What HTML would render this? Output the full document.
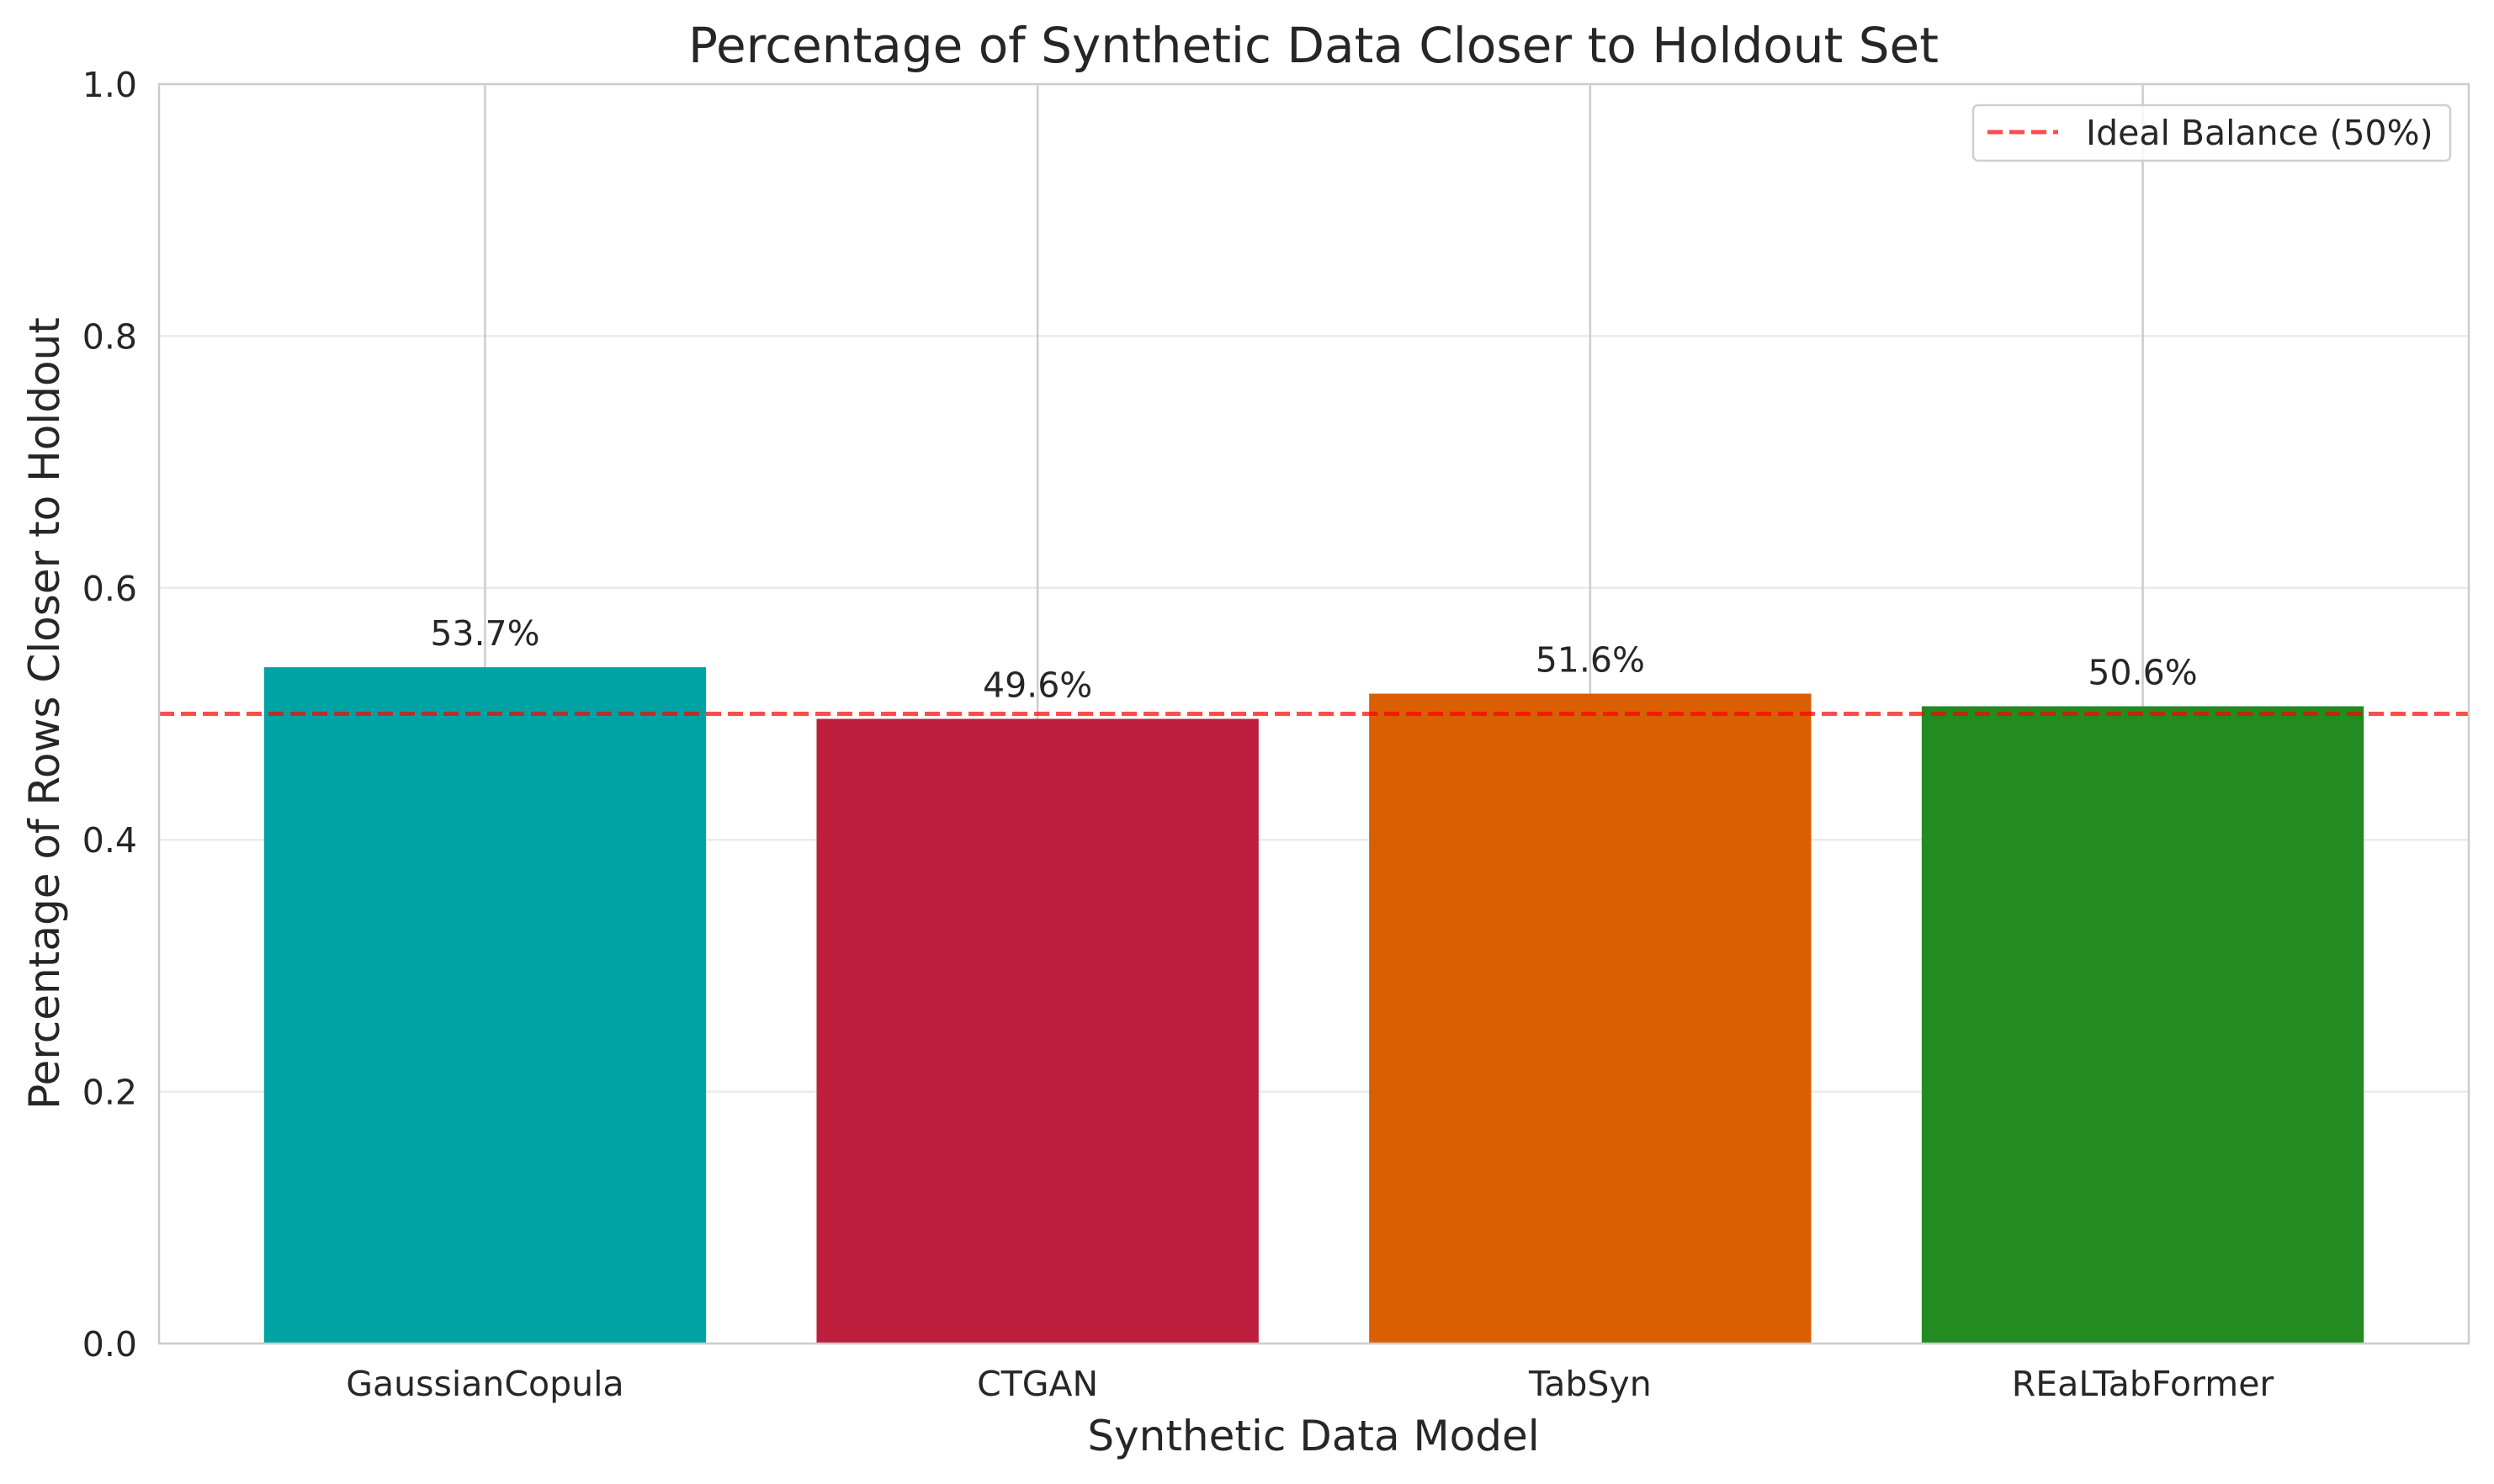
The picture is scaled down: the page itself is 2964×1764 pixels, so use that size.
<!DOCTYPE html>
<html><head><meta charset="utf-8"><style>
html,body{margin:0;padding:0;background:#fff;}
svg{display:block;font-family:"DejaVu Sans","Liberation Sans",sans-serif;}
</style></head><body>
<svg id="chart" width="2964" height="1764" viewBox="0 0 2964 1764" xmlns="http://www.w3.org/2000/svg">
<rect width="2964" height="1764" fill="#fff"/>
<g id="grid"></g>
<g id="bars"></g>
<g id="overlay"></g>
<text x="1561" y="74" text-anchor="middle" font-size="58" fill="#262626">Percentage of Synthetic Data Closer to Holdout Set</text>
<text x="1561" y="1724" text-anchor="middle" font-size="50" fill="#262626">Synthetic Data Model</text>
<text x="0" y="0" transform="translate(70,848) rotate(-90)" text-anchor="middle" font-size="50" fill="#262626">Percentage of Rows Closer to Holdout</text>
<g>
<rect x="2345" y="125" width="567" height="66" rx="6" fill="#fff" fill-opacity="0.8" stroke="#d0d0d0" stroke-width="2.5"/>
<line x1="2362" y1="157" x2="2446" y2="157" stroke="#ff0000" stroke-opacity="0.7" stroke-width="5" stroke-dasharray="18,8"/>
<text x="2479" y="172" font-size="41" fill="#262626">Ideal Balance (50%)</text>
</g>
</svg>
<script>
const categories = ["GaussianCopula","CTGAN","TabSyn","REaLTabFormer"];
const values = [0.537, 0.496, 0.516, 0.506];
const valueLabels = ["53.7%","49.6%","51.6%","50.6%"];
const colors = ["#00A3A3","#BE1E3E","#D95F02","#228B22"];
const yTicks = [0.0, 0.2, 0.4, 0.6, 0.8, 1.0];
const yTickLabels = ["0.0","0.2","0.4","0.6","0.8","1.0"];
const idealValue = 0.5;

const L=189,R=2934,T=100,B=1597;
const xmin=-0.59,xmax=3.59;
function xs(v){return L+(v-xmin)/(xmax-xmin)*(R-L);}
function ys(v){return B-(v-0)/(1-0)*(B-T);}
const NS="http://www.w3.org/2000/svg";
function mk(tag,attrs,parent){const e=document.createElementNS(NS,tag);for(const k in attrs)e.setAttribute(k,attrs[k]);parent.appendChild(e);return e;}
const grid=document.getElementById('grid'),bars=document.getElementById('bars'),ov=document.getElementById('overlay'),svg=document.getElementById('chart');

yTicks.forEach((t,i)=>{
  const g=mk('line',{x1:L,x2:R,y1:ys(t),y2:ys(t),stroke:'#ebebeb','stroke-width':2.5},grid);
  
  
  const tx=mk('text',{x:L-26,y:ys(t)+15,'text-anchor':'end','font-size':41,fill:'#262626'},svg);
  tx.textContent=yTickLabels[i];
  
  
});
categories.forEach((c,i)=>{
  const g=mk('line',{x1:xs(i),x2:xs(i),y1:T,y2:B,stroke:'#cccccc','stroke-width':2.5},grid);
  
  
  const w=xs(0.4)-xs(0);
  const b=mk('rect',{x:xs(i)-w,y:ys(values[i]),width:2*w,height:ys(0)-ys(values[i]),fill:colors[i]},bars);
  
  
  const vl=mk('text',{x:xs(i),y:ys(values[i])-26,'text-anchor':'middle','font-size':41,fill:'#262626'},ov);
  vl.textContent=valueLabels[i];
  
  
  const tl=mk('text',{x:xs(i),y:1659,'text-anchor':'middle','font-size':41,fill:'#262626'},svg);
  tl.textContent=c;
  
  
});
const il=mk('line',{x1:L,x2:R,y1:ys(idealValue),y2:ys(idealValue),stroke:'#ff0000','stroke-opacity':0.7,'stroke-width':5,'stroke-dasharray':'18,8'},ov);


const sp=mk('rect',{x:L,y:T,width:R-L,height:B-T,fill:'none',stroke:'#cccccc','stroke-width':2.5},ov);


</script>
</body></html>
